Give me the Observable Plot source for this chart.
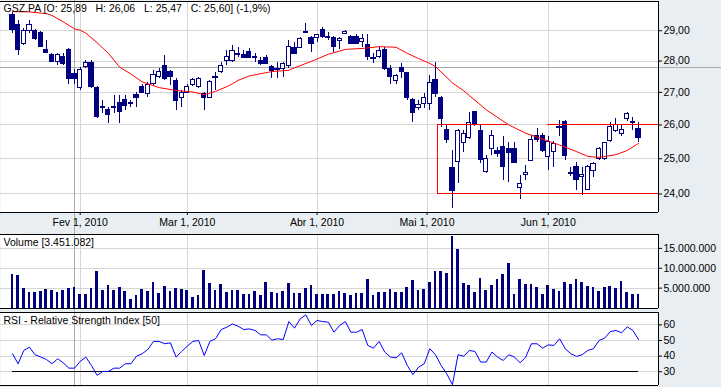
<!DOCTYPE html>
<html><head><meta charset="utf-8">
<script src="https://cdn.jsdelivr.net/npm/d3@7"></script>
<script src="https://cdn.jsdelivr.net/npm/@observablehq/plot@0.6"></script>
<style>
html,body{margin:0;padding:0;background:#e9eef2;}
#wrap{position:relative;width:721px;height:387px;background:#e9eef2;overflow:hidden;}
#wrap>div{position:absolute;left:0;}
svg{display:block;}
svg text{white-space:pre;}
</style></head><body>
<div id="wrap"><div id="p1" style="top:0"></div><div id="p2" style="top:232px"></div><div id="p3" style="top:310px"></div></div>
<script>
const ticker = "GSZ.PA";
const opens = [29.54,29.19,28.56,29.00,29.00,28.93,28.37,28.21,27.96,28.12, 28.37,27.58,27.14,27.82,27.92,27.14,26.55,26.44,26.52,26.68, 26.77,26.64,26.93,27.18,26.96,27.27,27.50,27.85,27.63,27.37, 26.84,26.99,27.24,27.18,26.96,26.84,27.45,27.63,28.01,28.01, 28.24,28.18,28.31,28.10,28.01,28.11,27.82,27.71,27.75,27.85, 28.44,28.44,28.92,28.77,28.77,29.03,28.76,28.76,28.67,28.89, 28.80,28.80,28.64,28.54,28.07,28.12,28.37,27.74,27.37,27.79, 27.60,26.77,26.53,26.65,26.65,27.40,26.84,25.86,24.72,24.92, 25.45,25.60,26.38,25.83,24.61,25.29,25.24,25.34,25.29,25.29, 24.18,24.52,24.93,25.66,25.66,25.04,25.21,25.90,26.10,24.59, 24.75,24.47,24.11,24.64,25.00,24.98,25.51,25.81,25.74,26.19, 26.05,25.89];
const highs = [29.61,29.34,29.07,29.34,29.03,28.98,28.67,28.25,28.26,28.25, 28.40,27.74,27.79,28.01,28.03,27.18,26.74,26.53,26.90,26.90, 26.90,26.74,26.99,27.26,27.32,27.69,27.75,28.18,27.69,27.43, 27.05,27.24,27.43,27.47,27.00,27.37,27.64,27.95,28.34,28.50, 28.45,28.34,28.41,28.23,28.11,28.18,27.85,27.95,27.95,28.67, 28.61,28.78,29.24,28.80,28.89,29.11,28.94,28.80,28.76,29.02, 28.83,28.87,28.89,28.89,28.24,28.44,28.44,27.85,27.58,27.92, 27.63,26.81,26.74,26.95,27.53,27.96,26.87,26.02,25.24,25.86, 25.83,26.39,26.41,26.01,25.10,25.83,25.34,25.64,25.49,25.49, 24.52,24.81,25.68,25.88,25.74,25.64,25.51,26.13,26.13,24.75, 24.90,24.76,24.81,24.90,25.34,25.49,26.08,26.18,25.98,26.39, 26.23,26.06];
const lows = [28.90,28.18,28.50,28.90,28.68,28.44,28.23,27.95,27.85,27.85, 27.26,27.26,27.05,27.75,27.11,26.19,26.34,26.04,26.34,26.04, 26.44,26.53,26.53,26.95,26.84,27.21,27.43,27.37,27.21,26.44, 26.53,26.96,27.18,27.11,26.44,26.81,27.05,27.59,27.85,27.95, 28.12,28.08,28.07,27.96,27.85,27.88,27.43,27.45,27.46,27.75, 28.23,28.40,28.90,28.28,28.61,28.73,28.67,28.28,28.36,28.87, 28.54,28.56,28.45,28.01,27.91,28.08,27.69,27.26,27.26,27.45, 26.74,26.08,26.44,26.50,26.44,26.84,25.92,25.45,23.60,24.29, 25.19,25.56,25.95,24.86,24.57,25.10,25.05,24.37,24.32,24.86, 23.86,24.37,24.92,25.49,25.19,24.66,24.76,25.64,24.95,24.49, 24.09,23.95,24.09,24.46,24.95,24.95,25.49,25.78,25.64,26.10, 25.83,25.47];
const closes = [29.02,28.36,29.00,29.20,28.73,28.47,28.26,27.98,28.21,27.90, 27.42,27.42,27.72,27.92,27.16,26.23,26.52,26.29,26.55,26.38, 26.59,26.66,26.84,26.99,27.24,27.56,27.63,27.42,27.47,26.74, 26.99,27.18,27.40,27.43,26.84,27.34,27.48,27.85,28.12,28.32, 28.18,28.11,28.11,28.12,27.91,27.91,27.69,27.73,27.91,28.47, 28.24,28.74,28.95,28.57,28.87,28.80,28.78,28.47,28.73,28.97, 28.57,28.57,28.73,28.14,28.09,28.34,27.75,27.50,27.53,27.66, 26.84,26.35,26.62,26.84,27.30,26.96,26.19,25.54,24.07,25.83, 25.74,26.07,26.02,24.95,25.00,25.68,25.13,24.76,25.17,24.88, 24.28,24.60,25.56,25.56,25.24,25.49,25.44,25.93,25.08,24.56, 24.40,24.52,24.76,24.86,25.29,25.47,25.95,26.01,25.85,26.32, 26.10,25.60];
// volume in millions of shares
const volumes = [8.5,8.3,5.0,4.0,4.0,4.2,4.6,4.4,4.0,4.4, 5.0,5.1,3.4,3.4,5.0,9.1,4.4,5.6,4.4,5.1, 4.1,2.1,3.1,4.6,4.1,6.4,3.6,5.4,4.1,4.9, 4.6,4.4,2.6,3.1,9.4,6.1,4.4,5.9,3.9,4.4, 4.4,3.4,3.4,4.1,3.1,6.4,3.9,3.6,4.1,6.1, 3.6,3.6,4.9,5.6,3.4,3.4,3.4,3.4,4.1,3.6, 3.1,3.6,3.7,7.1,3.1,3.9,3.9,4.6,3.9,3.9, 5.1,6.9,4.4,4.6,6.4,9.1,9.1,8.6,17.9,14.6, 6.1,5.6,3.9,7.4,4.4,5.6,7.1,8.4,11.1,3.4, 7.1,5.9,5.9,5.1,3.4,5.6,4.6,4.1,6.4,5.9, 7.1,6.4,5.4,5.1,4.1,5.1,5.4,4.9,6.6,3.9, 3.4,3.451082];
const rsi = [41.5,35.1,43.6,45.7,40.9,39.4,37.9,35.1,38.3,35.7, 32.3,32.3,36.6,39.4,34.0,27.7,30.2,30.2,32.3,32.3, 35.1,35.1,40.0,41.5,44.3,49.4,49.4,47.9,48.5,39.4, 43.0,46.4,49.4,50.0,40.4,49.4,51.1,57.0,58.5,60.6, 59.1,57.0,57.4,56.4,53.6,53.6,50.2,51.1,50.6,62.1, 57.9,63.8,66.4,59.6,62.8,62.1,61.7,55.3,59.6,62.1, 55.3,55.3,57.0,46.8,45.1,49.4,42.6,39.4,38.9,42.1, 34.0,28.1,33.0,35.1,44.7,40.9,34.0,28.7,21.7,40.9, 40.0,43.6,43.0,36.2,36.2,42.6,39.4,37.2,40.9,39.4, 35.7,39.4,47.9,47.9,45.1,47.2,46.8,51.1,44.7,41.5, 39.8,40.9,43.6,44.7,50.0,51.5,55.7,56.4,54.9,58.7, 56.4,50.6];
const rsiPeriod = 50;
const rsiLevel = 30;
// moving average (read at trading-day indices)
const maIdx = [0,3,6,7,9,11,12,13,15,17,19,21,23,26,29,32,34,36,38,39,40,42,46,49,50,53,56,59,62,65,68,70,72,74,75,78,80,81,84,88,91,95,97,100,102,104,107,109,111];
const maVal = [29.65,29.64,29.58,29.52,29.30,29.06,29.02,28.92,28.60,28.25,27.80,27.58,27.33,27.15,27.06,27.01,26.93,27.03,27.18,27.27,27.38,27.52,27.66,27.70,27.78,27.99,28.22,28.38,28.41,28.47,28.45,28.25,28.08,27.92,27.82,27.30,27.05,26.90,26.46,26.00,25.75,25.52,25.40,25.21,25.07,25.04,25.12,25.24,25.45];
// month ticks (trading-day index) and labels
const monthIdx = [12, 31, 54, 73.5, 95];
const monthLabels = ["Fev 1, 2010", "Mar 1, 2010", "Abr 1, 2010", "Mai 1, 2010", "Jun 1, 2010"];
const priceTicks = [24, 25, 26, 27, 28, 29];
const priceTickLabels = ["24,00", "25,00", "26,00", "27,00", "28,00", "29,00"];
const volTicks = [5, 10, 15];
const volTickLabels = ["5.000.000", "10.000.000", "15.000.000"];
const rsiTicks = [30, 40, 50, 60];
const rsiTickLabels = ["30", "40", "50", "60"];
// drawn annotations (support / resistance box)
const boxStart = 75.3, boxGapFrom = 87.8, boxGapTo = 94.9;
const resistance = 26, support = 24;
// cursor crosshair
const cursorIdx = 11, cursorPrice = 27.8;

// ---------- build ----------
const N = opens.length;
const xDom = [-12 / 5.64, 646 / 5.64];
const navy = "#000080", gridC = "#d6d6d6", crossC = "#ababab";
const st = {background: "transparent", fontFamily: "'Liberation Sans', Arial, sans-serif", fontSize: "10.5px", color: "#000"};
const candles = d3.range(N).map(i => ({i, o: opens[i], h: highs[i], l: lows[i], c: closes[i]}));
const volData = volumes.map((v, i) => ({i, v}));
const rsiData = rsi.map((v, i) => ({i, v}));
const maData = maIdx.map((i, k) => ({i, v: maVal[k]}));
const priceLab = new Map(priceTicks.map((d, k) => [d, priceTickLabels[k]]));
const volLab = new Map(volTicks.map((d, k) => [d, volTickLabels[k]]));
const rsiLab = new Map(rsiTicks.map((d, k) => [d, rsiTickLabels[k]]));
const monthLab = new Map(monthIdx.map((d, k) => [d, monthLabels[k]]));
const f2 = d => d.toFixed(2).replace(".", ",");
const last = N - 1;
const pct = ((closes[last] / closes[last - 1] - 1) * 100).toFixed(1).replace(".", ",");
const title = `${ticker} [O: ${f2(opens[last])}   H: ${f2(highs[last])}   L: ${f2(lows[last])}   C: ${f2(closes[last])}] (${pct}%)`;
const loc = d3.formatLocale({decimal: ",", thousands: ".", grouping: [3], currency: ["", ""]});
const volTitle = `Volume [${loc.format(",.0f")(volumes[last] * 1e6)}]`;
const rsiTitle = `RSI - Relative Strength Index [${rsiPeriod}]`;
const levelLines = [
  {v: resistance, a: boxStart, b: boxGapFrom},
  {v: resistance, a: boxGapTo, b: xDom[1]},
  {v: support, a: boxStart, b: xDom[1]}
];
const crisp = {shapeRendering: "crispEdges"};

const main = Plot.plot({
  width: 721, height: 232, marginLeft: 0, marginRight: 63, marginTop: 1, marginBottom: 20,
  style: st,
  x: {type: "linear", domain: xDom},
  y: {type: "log", domain: [23.49, 30.0]},
  color: {type: "identity"},
  marks: [
    Plot.frame({fill: "white", stroke: "none"}),
    Plot.ruleY(priceTicks, {stroke: gridC, ...crisp}),
    Plot.ruleX(monthIdx, {stroke: gridC, ...crisp}),
    Plot.ruleX([cursorIdx], {y1: 22, y2: 31, stroke: crossC, ...crisp}),
    Plot.ruleY([cursorPrice], {x1: -5, x2: 130, stroke: crossC, ...crisp}),
    Plot.ruleX(candles, {x: "i", y1: "l", y2: "h", stroke: navy, ...crisp}),
    Plot.rect(candles, {x1: d => d.i - 0.37, x2: d => d.i + 0.37, y1: "o", y2: "c",
      fill: d => d.c > d.o ? "white" : navy, stroke: navy, ...crisp}),
    Plot.line(maData, {x: "i", y: "v", stroke: "#ff0000", strokeWidth: 1}),
    Plot.ruleY(levelLines, {y: "v", x1: "a", x2: "b", stroke: "#ff0000", ...crisp}),
    Plot.ruleX([boxStart], {y1: support, y2: resistance, stroke: "#ff0000", ...crisp}),
    Plot.ruleY([30.0, 23.49], {stroke: "black", ...crisp}),
    Plot.ruleX([xDom[1]], {y1: 23.49, y2: 30.0, stroke: "black", ...crisp}),
    Plot.axisY({anchor: "right", ticks: priceTicks, tickFormat: d => priceLab.get(d), tickSize: 3, tickPadding: 2, label: null}),
    Plot.axisX({anchor: "bottom", ticks: monthIdx, tickFormat: d => monthLab.get(d), tickSize: 3, tickPadding: 3, label: null}),
    Plot.text([title], {text: d => d, frameAnchor: "top-left", dx: 3, dy: 3, lineAnchor: "top", textAnchor: "start", fontSize: 10.5})
  ]
});
document.getElementById("p1").appendChild(main);

const vol = Plot.plot({
  width: 721, height: 78, marginLeft: 0, marginRight: 63, marginTop: 2, marginBottom: 2.5,
  style: st,
  x: {type: "linear", domain: xDom, axis: null},
  y: {domain: [0, 18.5]},
  marks: [
    Plot.frame({fill: "white", stroke: "none"}),
    Plot.ruleY(volTicks, {stroke: gridC, ...crisp}),
    Plot.ruleX(monthIdx, {stroke: gridC, ...crisp}),
    Plot.ruleX([cursorIdx], {y1: -5, y2: 25, stroke: crossC, ...crisp}),
    Plot.rectY(volData, {x1: d => d.i - 0.24, x2: d => d.i + 0.24, y: "v", fill: navy, ...crisp}),
    Plot.ruleY([0, 18.5], {stroke: "black", ...crisp}),
    Plot.ruleX([xDom[1]], {y1: 0, y2: 18.5, stroke: "black", ...crisp}),
    Plot.axisY({anchor: "right", ticks: volTicks, tickFormat: d => volLab.get(d), tickSize: 3, tickPadding: 2, label: null}),
    Plot.text([volTitle], {text: d => d, frameAnchor: "top-left", dx: 3, dy: 4, lineAnchor: "top", textAnchor: "start", fontSize: 10.5})
  ]
});
document.getElementById("p2").appendChild(vol);

const rs = Plot.plot({
  width: 721, height: 77, marginLeft: 0, marginRight: 63, marginTop: 2, marginBottom: 2,
  style: st,
  x: {type: "linear", domain: xDom, axis: null},
  y: {domain: [21.2, 67.9]},
  marks: [
    Plot.frame({fill: "white", stroke: "none"}),
    Plot.ruleY(rsiTicks, {stroke: gridC, ...crisp}),
    Plot.ruleX(monthIdx, {stroke: gridC, ...crisp}),
    Plot.ruleX([cursorIdx], {y1: 0, y2: 80, stroke: crossC, ...crisp}),
    Plot.ruleY([rsiLevel], {x1: 0, x2: last, stroke: "black", ...crisp}),
    Plot.line(rsiData, {x: "i", y: "v", stroke: "#0000ff", strokeWidth: 1}),
    Plot.ruleY([21.2, 67.9], {stroke: "black", ...crisp}),
    Plot.ruleX([xDom[1]], {y1: 21.2, y2: 67.9, stroke: "black", ...crisp}),
    Plot.axisY({anchor: "right", ticks: rsiTicks, tickFormat: d => rsiLab.get(d), tickSize: 3, tickPadding: 2, label: null}),
    Plot.text([rsiTitle], {text: d => d, frameAnchor: "top-left", dx: 3, dy: 4, lineAnchor: "top", textAnchor: "start", fontSize: 10.5})
  ]
});
document.getElementById("p3").appendChild(rs);
</script></body></html>
